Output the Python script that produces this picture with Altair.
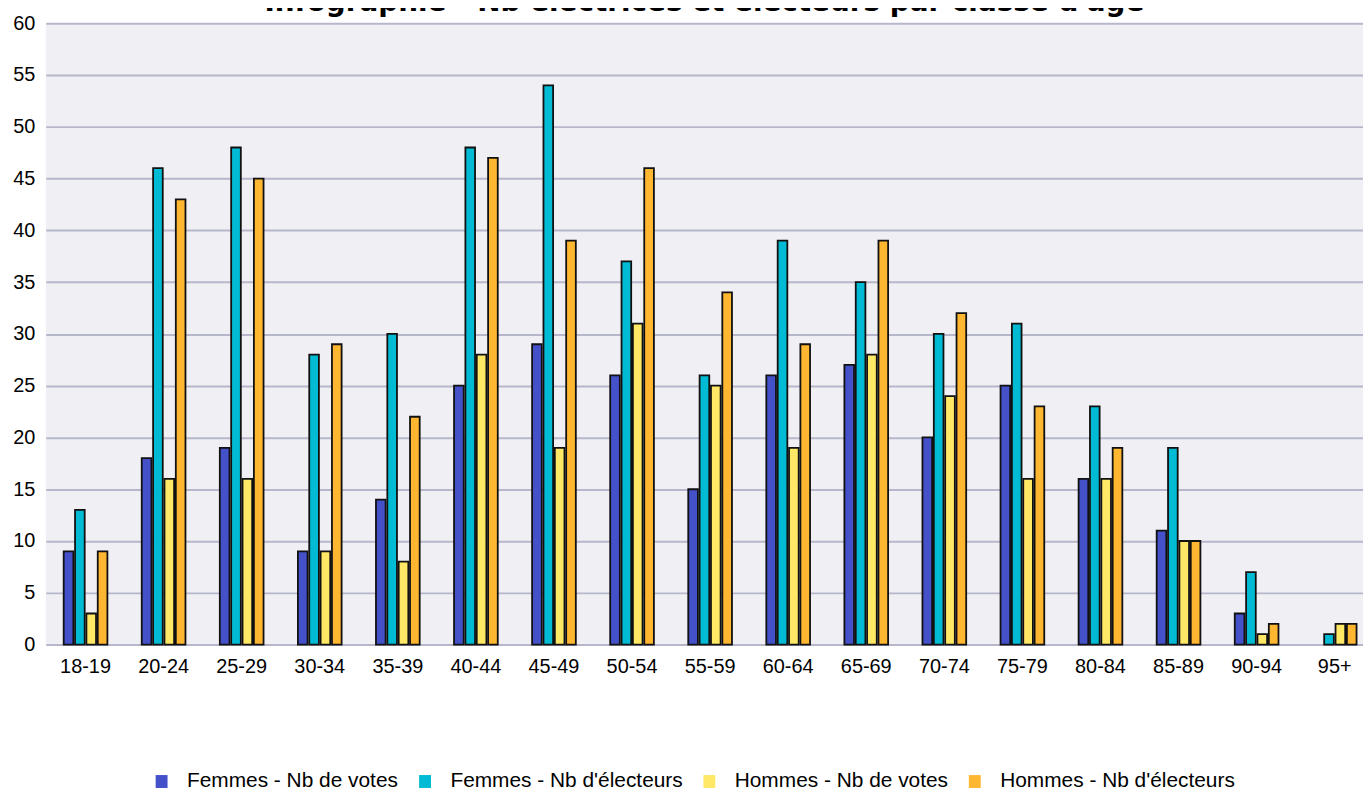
import altair as alt
import pandas as pd

categories = ["18-19", "20-24", "25-29", "30-34", "35-39", "40-44", "45-49", "50-54",
              "55-59", "60-64", "65-69", "70-74", "75-79", "80-84", "85-89", "90-94", "95+"]
series_names = ["Femmes - Nb de votes", "Femmes - Nb d'électeurs",
                "Hommes - Nb de votes", "Hommes - Nb d'électeurs"]
femmes_votes = [9, 18, 19, 9, 14, 25, 29, 26, 15, 26, 27, 20, 25, 16, 11, 3, 0]
femmes_electeurs = [13, 46, 48, 28, 30, 48, 54, 37, 26, 39, 35, 30, 31, 23, 19, 7, 1]
hommes_votes = [3, 16, 16, 9, 8, 28, 19, 31, 25, 19, 28, 24, 16, 16, 10, 1, 2]
hommes_electeurs = [9, 43, 45, 29, 22, 47, 39, 46, 34, 29, 39, 32, 23, 19, 10, 2, 2]
colors = ["#4451C9", "#00BBD3", "#FFE866", "#FFB631"]
y_ticks = list(range(0, 61, 5))
title_text = "Infographie - Nb électrices et électeurs par classe d'âge"

rows = []
for name, vals in zip(series_names, [femmes_votes, femmes_electeurs, hommes_votes, hommes_electeurs]):
    for cat, v in zip(categories, vals):
        rows.append({"classe": cat, "serie": name, "valeur": v})
df = pd.DataFrame(rows)

chart = alt.Chart(df).transform_filter(
    alt.datum.valeur > 0
).mark_bar(stroke="#111111", strokeWidth=1.8).encode(
    x=alt.X("classe:N", sort=categories,
            scale=alt.Scale(paddingInner=0.44, paddingOuter=0.156, align=0.735),
            axis=alt.Axis(title=None, labelAngle=0, ticks=False, domain=False,
                          labelPadding=12, labelFontSize=20, labelColor="#000000",
                          labelFont="Liberation Sans", grid=False)),
    xOffset=alt.XOffset("serie:N", sort=series_names,
                        scale=alt.Scale(domain=series_names, paddingInner=0.15, paddingOuter=0)),
    y=alt.Y("valeur:Q", scale=alt.Scale(domain=[0, 60], nice=False),
            axis=alt.Axis(title=None, values=y_ticks, ticks=False, domain=False,
                          labelPadding=11, labelFontSize=20, labelColor="#000000",
                          labelFont="Liberation Sans", grid=True,
                          gridColor="#B7B7CB", gridWidth=2)),
    color=alt.Color("serie:N", sort=series_names,
                    scale=alt.Scale(domain=series_names, range=colors),
                    legend=alt.Legend(title=None, orient="none", direction="horizontal",
                                      legendX=106, legendY=752,
                                      labelFontSize=21, labelFont="Liberation Sans",
                                      labelColor="#000000", labelOffset=15,
                                      labelLimit=400, columnPadding=16, padding=0,
                                      symbolType="M-0.92,-1H0.92V1H-0.92Z",
                                      symbolSize=169, symbolStrokeWidth=0,
                                      symbolOpacity=1)),
).properties(
    width=1325, height=625,
    autosize=alt.AutoSizeParams(type="none"),
    padding={"left": 38, "top": 13, "right": 0, "bottom": 150},
    title=alt.TitleParams(text=title_text, fontSize=28, font="DejaVu Sans",
                          fontWeight="bold", anchor="middle", color="#000000",
                          offset=-4),
).configure_view(fill="#EFEFF4", strokeWidth=0)

chart.save("out.html", embed_options={"renderer": "svg", "actions": False})
